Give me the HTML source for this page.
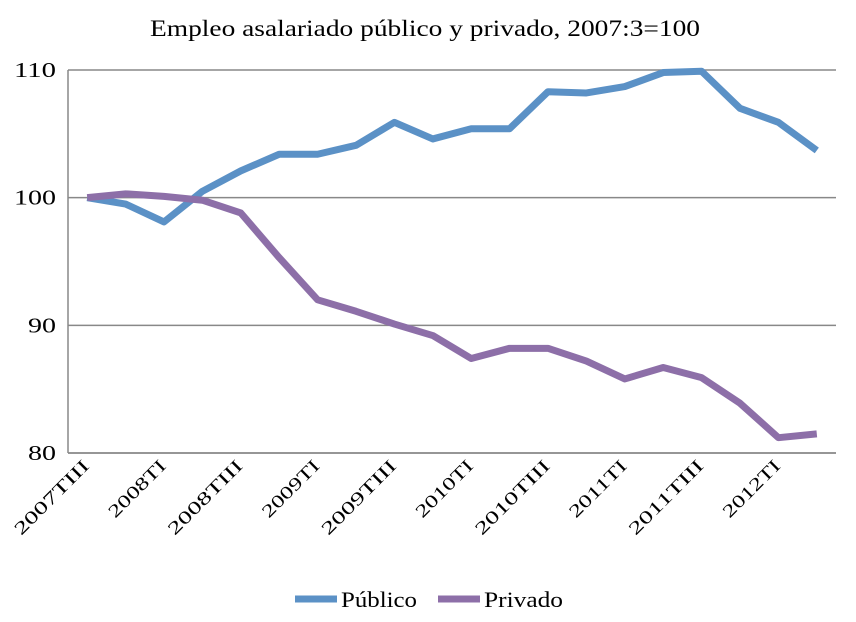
<!DOCTYPE html>
<html><head><meta charset="utf-8"><style>
html,body{margin:0;padding:0;background:#fff;}
svg{display:block;font-family:"Liberation Serif",serif;}
</style></head><body>
<svg id="chart" width="856" height="622" viewBox="0 0 856 622">
<text x="150" y="36" font-size="23" textLength="550" lengthAdjust="spacingAndGlyphs" fill="#000">Empleo asalariado público y privado, 2007:3=100</text>
<g id="grid"></g><g id="series"></g><g id="axes"></g>
<g>
<g><line x1="295" y1="599" x2="337" y2="599" stroke="#5b91c6" stroke-width="7"/><text x="341" y="607" font-size="22" textLength="76" lengthAdjust="spacingAndGlyphs">Público</text></g>
<g><line x1="438" y1="599" x2="480" y2="599" stroke="#8d6fa8" stroke-width="7"/><text x="484" y="607" font-size="22" textLength="79" lengthAdjust="spacingAndGlyphs">Privado</text></g>
</g>
</svg>
<script>
const categories=["2007TIII","2007TIV","2008TI","2008TII","2008TIII","2008TIV","2009TI","2009TII","2009TIII","2009TIV","2010TI","2010TII","2010TIII","2010TIV","2011TI","2011TII","2011TIII","2011TIV","2012TI","2012TII"];
const publico=[100,99.5,98.1,100.5,102.1,103.4,103.4,104.1,105.9,104.6,105.4,105.4,108.3,108.2,108.7,109.8,109.9,107.0,105.9,103.7];
const privado=[100,100.3,100.1,99.8,98.8,95.3,92.0,91.1,90.1,89.2,87.4,88.2,88.2,87.2,85.8,86.7,85.9,83.9,81.2,81.5];
const yTicks=[80,90,100,110];
const NS="http://www.w3.org/2000/svg";
const L=68,R=836,T=70,B=453,yMin=80,yMax=110;
const cw=(R-L)/categories.length;
const x=i=>L+cw*(i+0.5);
const y=v=>B-(v-yMin)/(yMax-yMin)*(B-T);
function mk(t,a,p){const e=document.createElementNS(NS,t);for(const k in a)e.setAttribute(k,a[k]);p.appendChild(e);return e;}
const grid=document.getElementById('grid'),axes=document.getElementById('axes'),ser=document.getElementById('series');
yTicks.forEach(v=>{
 const g=mk('line',{x1:L,x2:R,y1:y(v),y2:y(v),stroke:'#888','stroke-width':1.5},grid);
 
 
 const s=String(v);
 const t=mk('text',{x:L-12,y:y(v)+7,'text-anchor':'end','font-size':21,textLength:s.length*14,lengthAdjust:'spacingAndGlyphs'},axes);t.textContent=s;
 
 
});
const ax=mk('line',{x1:L,x2:L,y1:T,y2:B,stroke:'#888','stroke-width':1.5},axes);


const xa=mk('line',{x1:L,x2:R,y1:B,y2:B,stroke:'#888','stroke-width':1.5},axes);


categories.forEach((c,i)=>{
 if(i%2)return;
 const px=x(i)+3,py=B+14;
 const t=mk('text',{x:px,y:py,'text-anchor':'end','font-size':18,textLength:c.length*12.2,lengthAdjust:'spacingAndGlyphs',transform:`rotate(-45 ${px} ${py})`},axes);
 t.textContent=c;
 
 
});
function line(vals,col,name){
 const p=mk('polyline',{points:vals.map((v,i)=>x(i)+','+y(v)).join(' '),fill:'none',stroke:col,'stroke-width':7,'stroke-linejoin':'round'},ser);
 
 
}
line(publico,'#5b91c6','publico-line');
line(privado,'#8d6fa8','privado-line');
</script>
</body></html>
